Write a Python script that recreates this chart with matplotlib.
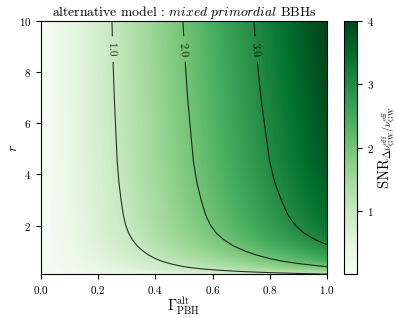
import numpy as np
import matplotlib
matplotlib.use("Agg")
import matplotlib.pyplot as plt

plt.rcParams["font.family"] = "serif"
plt.rcParams["font.serif"] = ["cmr10", "DejaVu Serif"]
plt.rcParams["mathtext.fontset"] = "cm"
plt.rcParams["axes.formatter.use_mathtext"] = True

# r values and SNR at Gamma = 1; SNR grows linearly in Gamma
r_vals = np.array([0.1, 0.13, 0.16, 0.2, 0.25, 0.3, 0.35, 0.4, 0.5, 0.6, 0.7, 0.85,
                   1.0, 1.2, 1.45, 1.7, 2.0, 2.4, 3.0, 3.7, 4.5, 5.5, 7.0, 8.5, 10.0])
snr_full = np.array([1.00, 1.13, 1.26, 1.42, 1.60, 1.76, 1.90, 2.02, 2.20, 2.36, 2.49, 2.66,
                     2.80, 2.97, 3.13, 3.26, 3.37, 3.47, 3.57, 3.67, 3.75, 3.81, 3.90, 3.97, 4.03])
gamma_vals = np.array([0.0, 1.0])
snr_grid = np.outer(snr_full, gamma_vals)

levels = [1.0, 2.0, 3.0]
cbar_ticks = [1, 2, 3, 4]

fig = plt.figure(figsize=(3.96, 3.18), dpi=100)
ax = fig.add_axes([0.1035, 0.138, 0.722, 0.796])
cax = fig.add_axes([0.869, 0.138, 0.032, 0.796])

fill = ax.contourf(gamma_vals, r_vals, snr_grid, levels=np.linspace(0, 4, 257),
                   cmap="Greens", vmin=0, vmax=4, extend="max", antialiased=False)
fill.set_rasterized(True)
cs = ax.contour(gamma_vals, r_vals, snr_grid, levels=levels, colors="k",
                linewidths=0.8, alpha=0.8)
ax.clabel(cs, fmt=r"$%.1f$", fontsize=8, inline=True,
          manual=[(0.25, 8.9), (0.5, 8.9), (0.75, 8.9)])

ax.set_xlim(0, 1)
ax.set_ylim(0.1, 10)
ax.set_xticks([0.0, 0.2, 0.4, 0.6, 0.8, 1.0])
ax.set_yticks([2, 4, 6, 8, 10])
ax.tick_params(labelsize=8)
ax.set_xlabel(r"$\Gamma_{\rm PBH}^{\rm alt}$", fontsize=10.5, labelpad=0)
ax.set_ylabel(r"$r$", fontsize=10, labelpad=-1)
ax.set_title(r"alternative model : $\mathit{mixed\ primordial}$ BBHs", fontsize=9.8, pad=3)

sm = plt.cm.ScalarMappable(cmap="Greens", norm=plt.Normalize(0, 4))
cb = fig.colorbar(sm, cax=cax, ticks=cbar_ticks)
cb.ax.tick_params(labelsize=8)
cb.set_label(r"$\rm SNR_{\Delta\nu_{GW}^{eff}/\nu_{GW}^{eff}}$", fontsize=10.5, labelpad=2)

fig.savefig("out.png", dpi=100)
